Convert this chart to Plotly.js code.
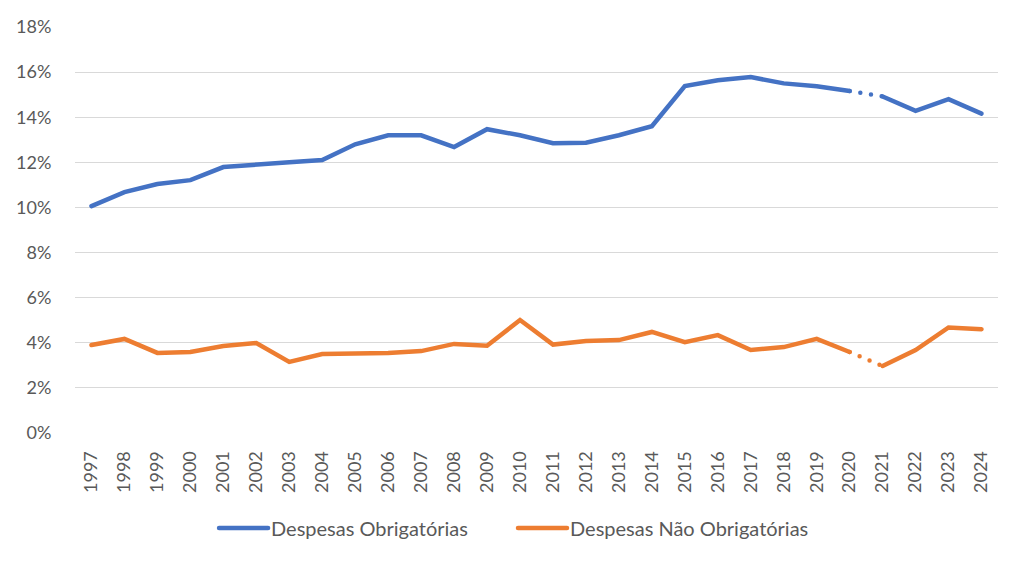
<!DOCTYPE html>
<html>
<head>
<meta charset="utf-8">
<script src="https://cdn.plot.ly/plotly-3.0.1.min.js"></script>
<style>
html,body{margin:0;padding:0;background:#fff;}
#chart{width:1024px;height:565px;}
.scatterlayer path.js-line{stroke-linecap:round;}
</style>
</head>
<body>
<div id="chart"></div>
<script>
var years = ["1997","1998","1999","2000","2001","2002","2003","2004","2005","2006","2007","2008","2009","2010","2011","2012","2013","2014","2015","2016","2017","2018","2019","2020","2021","2022","2023","2024"];
var obrigatorias = [10.06,10.68,11.04,11.21,11.79,11.92,12.0,12.1,12.8,13.2,13.2,12.68,13.47,13.2,12.85,12.87,13.2,13.6,15.38,15.64,15.78,15.5,15.37,15.16,14.92,14.28,14.8,14.16];
var naoObrigatorias = [3.9,4.17,3.55,3.59,3.86,3.99,3.15,3.5,3.52,3.55,3.63,3.95,3.87,5.01,3.92,4.08,4.12,4.48,4.03,4.34,3.68,3.81,4.17,3.59,2.97,3.68,4.68,4.6];
var yTicks = [0,2,4,6,8,10,12,14,16,18];
var seriesNames = ["Despesas Obrigatórias","Despesas Não Obrigatórias"];
var colors = ["#4472C4","#ED7D31"];
var breakIdx = years.indexOf("2020");

function segs(vals, name, color, grp, leg) {
  var w = 4.5;
  return [
    {x: years.slice(0, breakIdx+1), y: vals.slice(0, breakIdx+1), type:'scatter', mode:'lines', name:name, legend:leg, legendgroup:grp, showlegend:true, line:{color:color, width:w}, hoverinfo:'skip'},
    {x: years.slice(breakIdx, breakIdx+2), y: vals.slice(breakIdx, breakIdx+2), type:'scatter', mode:'lines', name:name, legend:leg, legendgroup:grp, showlegend:false, line:{color:color, width:w, dash:'0px,10.8px'}, hoverinfo:'skip'},
    {x: years.slice(breakIdx+1), y: vals.slice(breakIdx+1), type:'scatter', mode:'lines', name:name, legend:leg, legendgroup:grp, showlegend:false, line:{color:color, width:w}, hoverinfo:'skip'}
  ];
}
var data = segs(obrigatorias, seriesNames[0], colors[0], 'a', 'legend').concat(segs(naoObrigatorias, seriesNames[1], colors[1], 'b', 'legend2'));

var legBase = {orientation:'h', y:-0.234, yanchor:'middle', xanchor:'left', font:{size:20, color:'#595959'}, itemwidth:50, bgcolor:'rgba(0,0,0,0)'};
var layout = {
  width:1024, height:565,
  margin:{l:75, r:26, t:27, b:132},
  paper_bgcolor:'#fff', plot_bgcolor:'#fff',
  font:{family:'Lato, "Open Sans", sans-serif', size:18, color:'#595959'},
  showlegend:true,
  legend:Object.assign({}, legBase, {x:0.1474}),
  legend2:Object.assign({}, legBase, {x:0.4713}),
  xaxis:{type:'category', categoryorder:'array', categoryarray:years, range:[-0.5, years.length-0.5], tickangle:-90, showgrid:false, zeroline:false, showline:false, ticks:'outside', ticklen:10, tickcolor:'rgba(0,0,0,0)', tickfont:{size:18, color:'#595959'}, fixedrange:true},
  yaxis:{range:[0,18], tickvals:yTicks, ticktext:yTicks.map(function(v){return v+'%';}), showgrid:true, gridcolor:'#d9d9d9', gridwidth:1, zeroline:false, showline:false, ticks:'outside', ticklen:19, tickcolor:'rgba(0,0,0,0)', tickfont:{size:18, color:'#595959'}, fixedrange:true}
};
Plotly.newPlot('chart', data, layout, {displayModeBar:false, staticPlot:true}).then(function(gd){
  var paths = gd.querySelectorAll('.legendlines path');
  paths.forEach(function(p){ p.setAttribute('d','M8,0h49'); p.style.strokeLinecap='round'; });
});
</script>
</body>
</html>
